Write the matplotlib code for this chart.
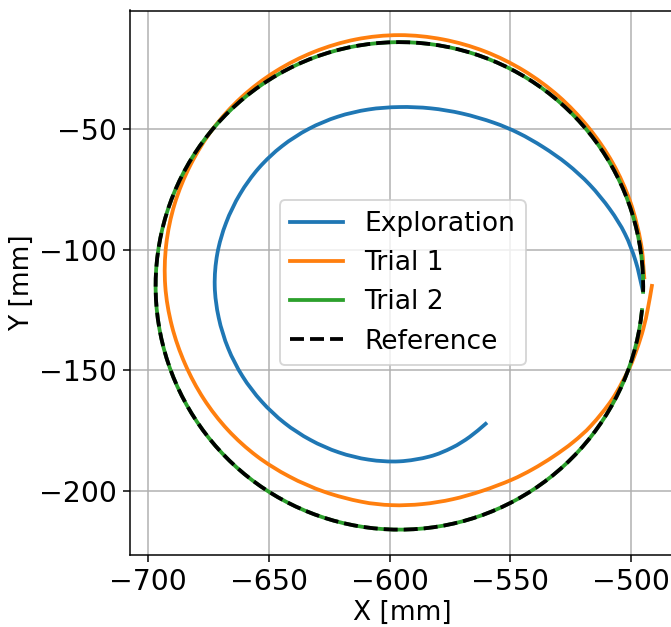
import numpy as np
import matplotlib
matplotlib.use("Agg")
import matplotlib.pyplot as plt
from matplotlib.path import Path
from matplotlib.patches import PathPatch

# ── data ──────────────────────────────────────────────────────────────────────
# trajectories are stored as angle [deg] / radius [mm] around the reference centre

ref_center = (-596.0, -115.0)
ref_radius = 101.0
ref_theta_start, ref_theta_end = -5.7, -361.4

trial2_center = (-596.0, -115.0)
trial2_radius = 101.0

explore_theta = [-58, -65, -72, -80, -90, -100, -110, -120, -130, -140, -150,
                 -160, -170, -180, -190, -200, -210, -220, -230, -240, -250,
                 -260, -270, -280, -290, -300, -308, -316, -324, -332, -340,
                 -347, -354, -361]
explore_r = [67.4, 69.0, 70.5, 71.8, 72.7, 73.1, 73.4, 73.7, 74.1, 74.5, 75.0,
             75.5, 76.0, 76.5, 76.6, 76.4, 76.2, 76.0, 75.6, 75.1, 74.6,
             74.2, 74.1, 74.7, 76.0, 78.1, 80.3, 82.8, 85.9, 89.3, 92.8,
             95.9, 98.4, 100.8]

trial1_theta = [0, -5, -10, -15, -20, -28, -36, -42, -48, -54, -60, -68, -76,
                -84, -92, -100, -110, -120, -130, -140, -150, -160, -170, -180,
                -190, -200, -210, -220, -230, -240, -250, -260, -270, -280,
                -290, -300, -310, -320, -330, -340, -350, -358]
trial1_r = [104.6, 103.4, 102.6, 101.8, 101.1, 99.9, 98.3, 96.8, 95.2, 93.9,
            92.8, 91.6, 91.1, 90.9, 90.9, 90.8, 90.8, 91.2, 92.0, 92.8, 93.6,
            94.5, 95.7, 97.0, 98.1, 99.1, 100.0, 101.0, 101.9, 102.6, 103.2,
            103.7, 103.9, 103.7, 103.4, 103.0, 102.6, 102.2, 102.0, 101.8,
            101.6, 101.5]


def to_xy(theta_deg, r, center):
    t = np.radians(np.asarray(theta_deg, dtype=float))
    r = np.asarray(r, dtype=float)
    return center[0] + r * np.cos(t), center[1] + r * np.sin(t)


def smooth_path(x, y):
    # bezier path through the read points (catmull-rom tangents)
    pts = np.column_stack([x, y])
    p = np.vstack([2 * pts[0] - pts[1], pts, 2 * pts[-1] - pts[-2]])
    verts = [pts[0]]
    codes = [Path.MOVETO]
    for i in range(1, len(p) - 2):
        p0, p1, p2, p3 = p[i - 1], p[i], p[i + 1], p[i + 2]
        verts += [p1 + (p2 - p0) / 6, p2 - (p3 - p1) / 6, p2]
        codes += [Path.CURVE4] * 3
    return Path(verts, codes)


# ── plot ──────────────────────────────────────────────────────────────────────

plt.rcParams["font.size"] = 14
plt.rcParams["xtick.labelsize"] = 15
plt.rcParams["ytick.labelsize"] = 15
plt.rcParams["lines.linewidth"] = 2

fig = plt.figure(figsize=(671 / 136, 627 / 136), dpi=136)
ax = fig.add_axes([130 / 671, 72 / 627, 545.3 / 671, 544.5 / 627])

ex, ey = to_xy(explore_theta, explore_r, ref_center)
ax.add_patch(PathPatch(smooth_path(ex, ey), fill=False, edgecolor="C0",
                       lw=2, capstyle="projecting", zorder=2))
ax.plot([], [], color="C0", label="Exploration")

t1x, t1y = to_xy(trial1_theta, trial1_r, ref_center)
ax.add_patch(PathPatch(smooth_path(t1x, t1y), fill=False, edgecolor="C1",
                       lw=2, capstyle="projecting", zorder=2))
ax.plot([], [], color="C1", label="Trial 1")

circ = np.linspace(ref_theta_start, ref_theta_end, 300)
t2x, t2y = to_xy(circ, np.full(circ.size, trial2_radius), trial2_center)
ax.plot(t2x, t2y, color="C2", label="Trial 2")

rx, ry = to_xy(circ, np.full(circ.size, ref_radius), ref_center)
ax.plot(rx, ry, "k--", label="Reference")

ax.set_xlim(-707.6, -481.7)
ax.set_ylim(-226.5, -0.9)
ax.set_xticks([-700, -650, -600, -550, -500])
ax.set_yticks([-50, -100, -150, -200])
ax.set_xlabel("X [mm]", labelpad=2)
ax.set_ylabel("Y [mm]", labelpad=2)
ax.grid(True)
ax.legend(loc="center")

plt.savefig("out.png", dpi=136)
